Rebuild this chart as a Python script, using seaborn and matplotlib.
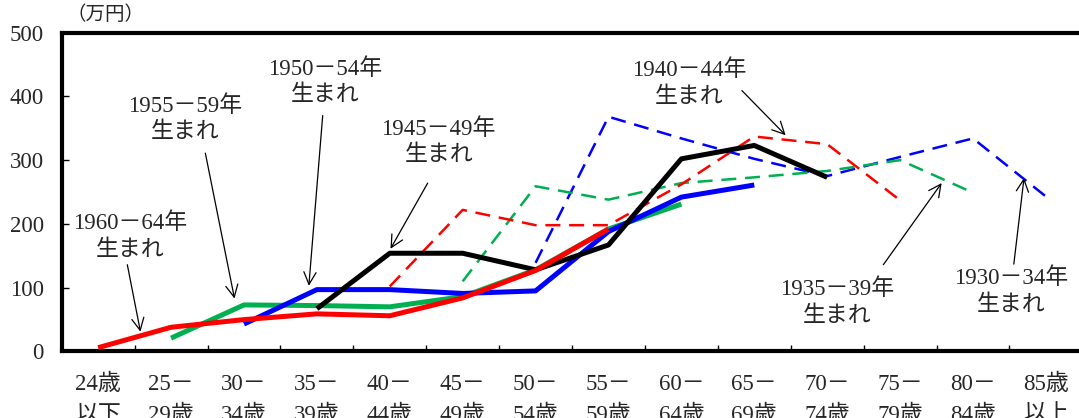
import pandas as pd
import matplotlib
matplotlib.use("Agg")
import matplotlib.pyplot as plt
import seaborn as sns

# 年齢階級
age_labels = ["24歳\n以下", "25－\n29歳", "30－\n34歳", "35－\n39歳", "40－\n44歳",
              "45－\n49歳", "50－\n54歳", "55－\n59歳", "60－\n64歳", "65－\n69歳",
              "70－\n74歳", "75－\n79歳", "80－\n84歳", "85歳\n以上"]
y_ticks = [0, 100, 200, 300, 400, 500]

# 世代ごとの値（万円）: 最初の年齢階級の番号 + 値
c1930_start = 6
c1930 = [139, 368, 334, 302, 275, 305, 334, 243]
c1935_start = 5
c1935 = [110, 259, 238, 264, 273, 283, 300, 249]
c1940_start = 4
c1940 = [102, 222, 198, 198, 262, 337, 325, 237]
c1945_start = 3
c1945 = [67, 154, 154, 128, 167, 302, 323, 273]
c1950_start = 2
c1950 = [43, 97, 97, 91, 95, 188, 242, 261]
c1955_start = 1
c1955 = [21, 73, 72, 70, 86, 128, 192, 231]
c1960_start = 0
c1960 = [6, 38, 50, 59, 56, 84, 127, 192]

cohorts = {
    "1930－34年": (c1930_start, c1930),
    "1935－39年": (c1935_start, c1935),
    "1940－44年": (c1940_start, c1940),
    "1945－49年": (c1945_start, c1945),
    "1950－54年": (c1950_start, c1950),
    "1955－59年": (c1955_start, c1955),
    "1960－64年": (c1960_start, c1960),
}

rows = []
for name, (start, vals) in cohorts.items():
    for i, v in enumerate(vals):
        rows.append({"cohort": name, "age": start + i, "value": v})
df = pd.DataFrame(rows)

# 線の見た目
styles = {
    "1930－34年": dict(color="#0000FF", lw=1.8, dashed=True, z=2),
    "1935－39年": dict(color="#00B050", lw=1.8, dashed=True, z=2),
    "1940－44年": dict(color="#FF0000", lw=1.8, dashed=True, z=2),
    "1955－59年": dict(color="#00B050", lw=3.6, dashed=False, z=3),
    "1950－54年": dict(color="#0000FF", lw=3.6, dashed=False, z=4),
    "1945－49年": dict(color="#000000", lw=3.6, dashed=False, z=5),
    "1960－64年": dict(color="#FF0000", lw=3.6, dashed=False, z=6),
}

# 注記: テキスト中心, 矢印の始点, 矢印の先
notes = [
    ("1960－64年", (0.44, 180), (0.40, 136), (0.58, 31)),
    ("1955－59年", (1.19, 364), (1.47, 311), (1.87, 83)),
    ("1950－54年", (3.11, 422), (3.08, 370), (2.89, 103)),
    ("1945－49年", (4.67, 328), (4.52, 264), (4.01, 161)),
    ("1940－44年", (8.11, 420), (8.83, 409), (9.43, 339)),
    ("1935－39年", (10.14, 77), (10.77, 136), (11.57, 264)),
    ("1930－34年", (12.52, 94), (12.56, 137), (12.70, 272)),
]

sns.set_theme(style="white")
plt.rcParams["font.family"] = ["Liberation Serif", "Noto Sans CJK JP", "DejaVu Sans"]

fig = plt.figure(figsize=(10.79, 4.18), dpi=100)
ax = fig.add_axes([0.0572, 0.1591, 0.9459, 0.7631])

for name, st in styles.items():
    kw = dict(color=st["color"], linewidth=st["lw"], zorder=st["z"])
    if st["dashed"]:
        kw["dashes"] = (6, 3.5)
    sns.lineplot(data=df[df["cohort"] == name], x="age", y="value", ax=ax,
                 legend=False, solid_capstyle="butt", **kw)

for label, txt, tail, head in notes:
    ax.text(txt[0], txt[1], label + "\n生まれ", ha="center", va="center",
            fontsize=16.5, linespacing=1.35, zorder=10)
    ax.annotate("", xy=head, xytext=tail,
                arrowprops=dict(arrowstyle="->", lw=0.9, color="black",
                                mutation_scale=22, shrinkA=0, shrinkB=0),
                zorder=10)

ax.set_xlim(-0.5, 13.5)
ax.set_ylim(0, 500)
ax.set_xticks(range(len(age_labels)))
ax.set_xticklabels(age_labels, fontsize=16.5, linespacing=1.6)
ax.set_xticks([i + 0.5 for i in range(len(age_labels) - 1)], minor=True)
ax.set_yticks(y_ticks)
ax.set_yticklabels([str(t) for t in y_ticks], fontsize=16.5)
ax.tick_params(axis="x", which="major", length=0, pad=16)
ax.tick_params(axis="x", which="minor", direction="in", length=4.5, width=1,
               bottom=True, color="black")
ax.tick_params(axis="y", direction="in", length=5, width=1, left=True,
               pad=13, color="black")
ax.set_xlabel("")
ax.set_ylabel("")
for side in ["left", "bottom", "top", "right"]:
    ax.spines[side].set_visible(True)
    ax.spines[side].set_color("black")
    ax.spines[side].set_linewidth(3)

fig.text(67 / 1079, 1 - 15 / 418, "（万円）", ha="left", va="center",
         fontsize=14, family=["Noto Sans CJK JP"])

fig.savefig("out.png", dpi=100)
